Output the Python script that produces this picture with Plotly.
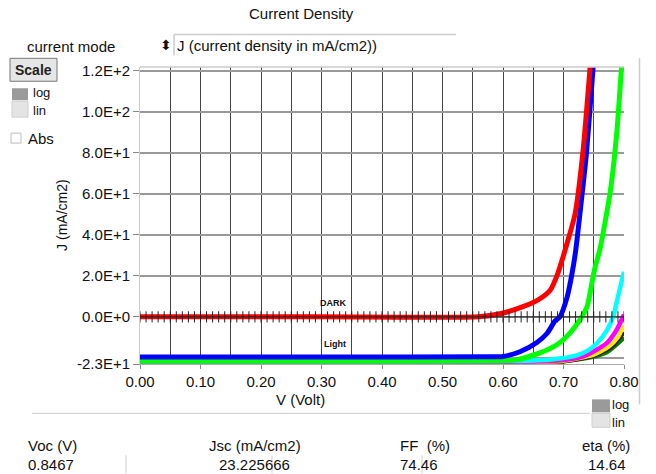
import plotly.graph_objects as go

# ---------------- data ----------------
V_dark = [0.00, 0.30, 0.56, 0.595, 0.633, 0.658, 0.678, 0.691, 0.699, 0.706, 0.719, 0.732, 0.744, 0.746]
J_dark = [0.0, 0.0, 0.0, 1.5, 5.0, 8.3, 13.0, 21.5, 29.0, 36.0, 50.0, 80.0, 122.0, 130.0]

V_blue = [0.00, 0.30, 0.58, 0.60, 0.628, 0.656, 0.673, 0.686, 0.694, 0.706, 0.714, 0.720, 0.727, 0.738, 0.749, 0.751]
J_blue = [-19.6, -19.6, -19.5, -19.3, -17.0, -12.5, -8.0, -2.0, 0.0, 9.6, 21.0, 32.0, 50.0, 80.0, 122.0, 130.0]

V_green = [0.00, 0.30, 0.60, 0.623, 0.661, 0.689, 0.711, 0.727, 0.739, 0.747, 0.752, 0.760, 0.777, 0.788, 0.796, 0.798]
J_green = [-21.5, -21.5, -21.4, -21.0, -17.6, -13.6, -7.8, -1.5, 5.0, 16.6, 24.0, 32.7, 60.5, 89.6, 122.0, 130.0]

V_cyan = [0.00, 0.30, 0.62, 0.68, 0.722, 0.740, 0.755, 0.772, 0.782, 0.790, 0.800]
J_cyan = [-21.7, -21.7, -21.5, -20.8, -18.8, -16.5, -13.0, -6.5, 0.0, 9.8, 22.0]

V_magenta = [0.00, 0.30, 0.65, 0.70, 0.73, 0.749, 0.772, 0.788, 0.800]
J_magenta = [-22.0, -22.0, -21.8, -21.0, -19.5, -17.0, -12.7, -6.3, 1.0]

V_yellow = [0.00, 0.30, 0.65, 0.70, 0.75, 0.775, 0.790, 0.800]
J_yellow = [-22.2, -22.2, -22.0, -21.5, -18.5, -14.5, -10.0, -4.0]

V_black = [0.00, 0.30, 0.65, 0.70, 0.75, 0.780, 0.800]
J_black = [-22.4, -22.4, -22.2, -21.8, -19.0, -14.5, -7.5]

V_dkgreen = [0.00, 0.30, 0.60, 0.65, 0.70, 0.744, 0.772, 0.800]
J_dkgreen = [-22.8, -22.8, -22.6, -22.3, -21.5, -19.6, -17.0, -10.0]

V_ticks = [0.00, 0.01, 0.02, 0.03, 0.04, 0.05, 0.06, 0.07, 0.08, 0.09,
           0.10, 0.11, 0.12, 0.13, 0.14, 0.15, 0.16, 0.17, 0.18, 0.19,
           0.20, 0.21, 0.22, 0.23, 0.24, 0.25, 0.26, 0.27, 0.28, 0.29,
           0.30, 0.31, 0.32, 0.33, 0.34, 0.35, 0.36, 0.37, 0.38, 0.39,
           0.40, 0.41, 0.42, 0.43, 0.44, 0.45, 0.46, 0.47, 0.48, 0.49,
           0.50, 0.51, 0.52, 0.53, 0.54, 0.55, 0.56, 0.57, 0.58, 0.59,
           0.60, 0.61, 0.62, 0.63, 0.64, 0.65, 0.66, 0.67, 0.68, 0.69,
           0.70, 0.71, 0.72, 0.73, 0.74, 0.75, 0.76, 0.77, 0.78, 0.79, 0.80]
J_ticks = [0.0] * len(V_ticks)

x_tickvals = [0.0, 0.1, 0.2, 0.3, 0.4, 0.5, 0.6, 0.7, 0.8]
x_ticktext = ["0.00", "0.10", "0.20", "0.30", "0.40", "0.50", "0.60", "0.70", "0.80"]
y_tickvals = [-23, 0, 20, 40, 60, 80, 100, 120]
y_ticktext = ["-2.3E+1", "0.0E+0", "2.0E+1", "4.0E+1", "6.0E+1", "8.0E+1", "1.0E+2", "1.2E+2"]

stat_labels = ["Voc (V)", "Jsc (mA/cm2)", "FF  (%)", "eta (%)"]
stat_values = ["0.8467", "23.225666", "74.46", "14.64"]

# ---------------- layout geometry ----------------
W, H = 656, 474
L, R, T, B = 140, 624, 66.7, 364.5
FONT = "Liberation Sans, Arial, sans-serif"
FS = 15


def px(x):
    return (x - L) / (R - L)


def py(y):
    return (B - y) / (B - T)


fig = go.Figure()


def curve(v, j, color, width=4.5):
    fig.add_trace(go.Scatter(x=v, y=j, mode="lines",
                             line=dict(color=color, width=width, shape="spline", smoothing=0.6),
                             hoverinfo="skip", showlegend=False))


curve(V_dkgreen, J_dkgreen, "#008000", 5)
curve(V_black, J_black, "#3a1a10", 4)
curve(V_yellow, J_yellow, "#ffee00", 4)
curve(V_magenta, J_magenta, "#ff00ff", 4.5)
curve(V_cyan, J_cyan, "#00ffff", 4.5)
curve(V_green, J_green, "#00ff00", 5)
curve(V_blue, J_blue, "#0000ff", 5)
curve(V_dark, J_dark, "#ff0000", 5)

fig.add_trace(go.Scatter(x=V_ticks, y=J_ticks, mode="lines+markers",
                         line=dict(color="#222222", width=1),
                         marker=dict(symbol="line-ns", size=8, line=dict(color="#222222", width=1)),
                         hoverinfo="skip", showlegend=False))

fig.update_layout(
    width=W, height=H,
    margin=dict(l=L, r=W - R, t=T, b=H - B),
    paper_bgcolor="white", plot_bgcolor="white",
    font=dict(family=FONT, size=FS, color="#111111"),
    xaxis=dict(range=[0, 0.8], tickvals=x_tickvals, ticktext=x_ticktext,
               showgrid=True, gridcolor="#444444", gridwidth=1,
               minor=dict(tick0=0, dtick=0.05, showgrid=True, gridcolor="#444444", gridwidth=1),
               ticks="outside", ticklen=4, tickcolor="#888888",
               showline=True, linecolor="#aaaaaa", zeroline=False,
               tickfont=dict(size=FS, family=FONT, color="#111111")),
    yaxis=dict(range=[-23, 121.9], tickvals=y_tickvals, ticktext=y_ticktext,
               showgrid=True, gridcolor="#999999", gridwidth=1.5,
               minor=dict(tick0=0, dtick=20, showgrid=True, gridcolor="#999999", gridwidth=1.5),
               ticks="outside", ticklen=6, tickcolor="#888888",
               showline=True, linecolor="#cccccc", zeroline=False,
               tickfont=dict(size=FS, family=FONT, color="#111111")),
)

shapes = []
shapes.append(dict(type="line", xref="paper", yref="paper", x0=0, x1=1, y0=1, y1=1,
                   line=dict(color="#cccccc", width=1.5)))
shapes.append(dict(type="line", xref="paper", yref="paper", x0=px(639.5), x1=px(639.5), y0=py(58), y1=py(405),
                   line=dict(color="#cccccc", width=1.5)))
shapes.append(dict(type="line", xref="paper", yref="paper", x0=px(32), x1=px(590), y0=py(414), y1=py(414),
                   line=dict(color="#cccccc", width=1)))
shapes.append(dict(type="line", xref="paper", yref="paper", x0=px(174), x1=px(456), y0=py(34), y1=py(34),
                   line=dict(color="#cccccc", width=1.5)))
shapes.append(dict(type="line", xref="paper", yref="paper", x0=px(174), x1=px(174), y0=py(34), y1=py(55),
                   line=dict(color="#cccccc", width=1.5)))
shapes.append(dict(type="rect", xref="paper", yref="paper", x0=px(10), x1=px(57), y0=py(58), y1=py(81),
                   fillcolor="#e6e6e6", line=dict(color="#777777", width=1)))
shapes.append(dict(type="rect", xref="paper", yref="paper", x0=px(12), x1=px(28), y0=py(88), y1=py(100),
                   fillcolor="#9a9a9a", line=dict(width=0)))
shapes.append(dict(type="rect", xref="paper", yref="paper", x0=px(12), x1=px(28), y0=py(101), y1=py(117),
                   fillcolor="#e4e4e4", line=dict(color="#cfcfcf", width=1)))
shapes.append(dict(type="rect", xref="paper", yref="paper", x0=px(592), x1=px(610), y0=py(400), y1=py(413),
                   fillcolor="#9a9a9a", line=dict(width=0)))
shapes.append(dict(type="rect", xref="paper", yref="paper", x0=px(592), x1=px(610), y0=py(414), y1=py(428),
                   fillcolor="#e4e4e4", line=dict(color="#cfcfcf", width=1)))
shapes.append(dict(type="rect", xref="paper", yref="paper", x0=px(11), x1=px(21), y0=py(133), y1=py(143),
                   fillcolor="white", line=dict(color="#bbbbbb", width=1)))
for xd in [126, 272, 422]:
    shapes.append(dict(type="line", xref="paper", yref="paper", x0=px(xd), x1=px(xd), y0=py(456), y1=py(474),
                       line=dict(color="#cccccc", width=1)))
fig.update_layout(shapes=shapes)

ann = []


def text(x, y, s, size=FS, xanchor="left", bold=False, angle=0, color="#111111", yanchor="middle"):
    ann.append(dict(x=px(x), y=py(y), xref="paper", yref="paper", text=("<b>%s</b>" % s) if bold else s,
                    showarrow=False, xanchor=xanchor, yanchor=yanchor, textangle=angle,
                    borderpad=0, font=dict(size=size, family=FONT, color=color)))


text(301, 13, "Current Density", FS, "center")
text(26, 46, "current mode", FS)
text(176, 45, "J (current density in mA/cm2))", FS)
text(166, 45, "\u2b0d", 14, "center")
text(33.5, 69.5, "Scale", 14, "center", bold=True, color="#222222")
text(32, 101, "log", 13, yanchor="bottom")
text(32, 101.5, "lin", 13, yanchor="top")
text(27, 138, "Abs", FS)
text(62, 215, "J (mA/cm2)", 14, "center", angle=-90)
text(300, 400, "V (Volt)", FS, "center")
text(611, 414, "log", 13, yanchor="bottom")
text(611, 414.5, "lin", 13, yanchor="top")
text(333, 303, "DARK", 9, "center", bold=True)
text(335, 344, "Light", 9, "center", bold=True)

lab_x = [27, 255, 399, 631]
lab_anchor = ["left", "center", "left", "right"]
val_x = [27, 254, 399, 627]
val_anchor = ["left", "center", "left", "right"]
for i in range(4):
    text(lab_x[i], 446, stat_labels[i], FS, lab_anchor[i])
    text(val_x[i], 465, stat_values[i], FS, val_anchor[i])
fig.update_layout(annotations=ann)

fig.write_html("out.html")
